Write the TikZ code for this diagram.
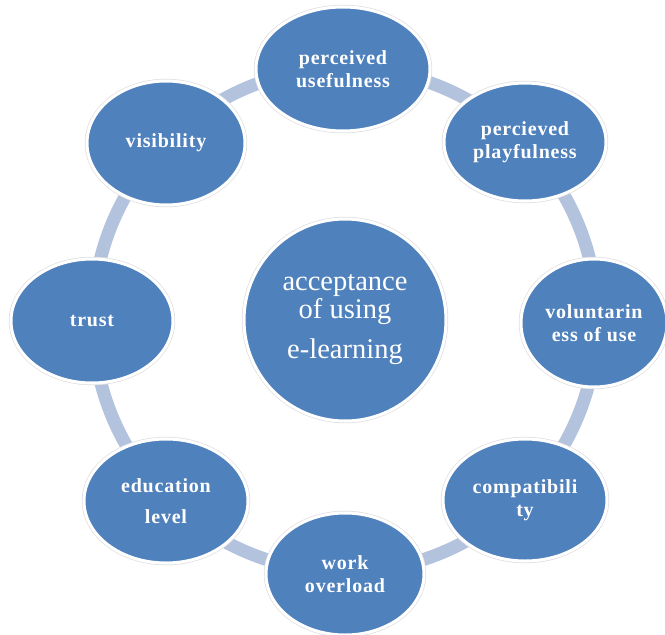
\documentclass[tikz,border=0pt]{standalone}
\usepackage{fontspec}
\setmainfont{Liberation Serif}
\newfontfamily\factorfont[LetterSpace=4]{Liberation Serif}
\usetikzlibrary{shapes.geometric}

\definecolor{factorblue}{HTML}{4F81BD}
\definecolor{ringblue}{HTML}{B3C2DD}

\begin{document}
\begin{tikzpicture}[x=1pt, y=-1pt,
    ring/.style={draw=ringblue, line width=13pt},
    bubble/.style={fill=factorblue, draw=white, line width=3pt,
      preaction={draw=black!12, line width=4.5pt},
      text=white, align=center, inner sep=0pt},
    factor/.style={bubble, ellipse,
      font=\factorfont\bfseries\fontsize{20}{23.5}\selectfont},
    hub/.style={bubble, circle, minimum size=202,
      font=\fontsize{28.5}{28}\selectfont}]
    \useasboundingbox (0,0) rectangle (665,635);

    % ring behind all the bubbles
    \coordinate (mid) at (345,320);
    \draw[ring] (mid) circle (252);

    \node[hub] (accept) at (mid) {acceptance\\of using\\[12pt]e-learning};

    % factors, clockwise from the top
    \node[factor, minimum width=174, minimum height=124] (useful) at (343,69) {perceived\\usefulness};
    \node[factor, minimum width=162, minimum height=118] (playful) at (525,142) {percieved\\playfulness};
    \node[factor, minimum width=146, minimum height=128] (volunt) at (594,323) {voluntarin\\ess of use};
    \node[factor, minimum width=164, minimum height=122] (compat) at (525,500) {compatibili\\ty};
    \node[factor, minimum width=158, minimum height=122] (overload) at (345,574) {work\\overload};
    \node[factor, minimum width=164, minimum height=124] (educ) at (166,501) {education\\[7pt]level};
    \node[factor, minimum width=162, minimum height=124] (trust) at (92,321) {trust};
    \node[factor, minimum width=158, minimum height=124] (visib) at (166,143) {visibility};
\end{tikzpicture}
\end{document}
